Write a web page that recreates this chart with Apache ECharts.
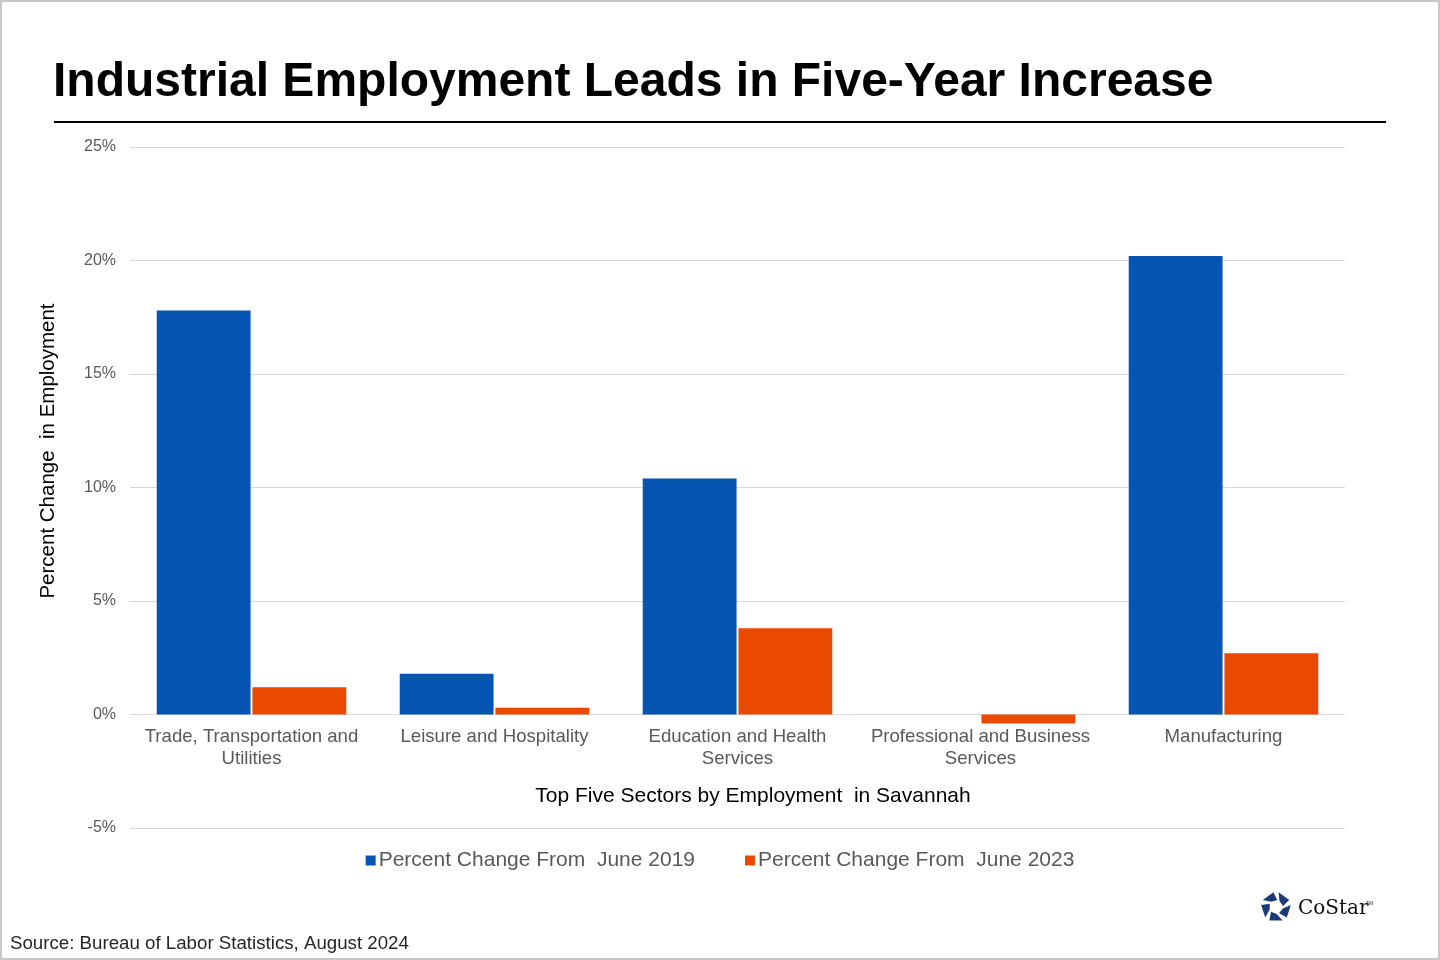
<!DOCTYPE html>
<html>
<head>
<meta charset="utf-8">
<title>Industrial Employment Leads in Five-Year Increase</title>
<script src="https://cdn.jsdelivr.net/npm/echarts@6/dist/echarts.min.js"></script>
<style>
  html, body { margin: 0; padding: 0; background: #fff; }
  #chart { width: 1440px; height: 960px; }
</style>
</head>
<body>
<div id="chart"></div>
<script>
// sectors on the x axis (line breaks as in the original labels)
var sectors = [
    'Trade, Transportation and\nUtilities',
    'Leisure and Hospitality',
    'Education and Health\nServices',
    'Professional and Business\nServices',
    'Manufacturing'
];
// percent change since June 2019
var change2019 = [17.8, 1.8, 10.4, 0.0, 20.2];
// percent change since June 2023
var change2023 = [1.2, 0.3, 3.8, -0.4, 2.7];
var seriesNames = ['Percent Change From  June 2019', 'Percent Change From  June 2023'];

var FONT = '"Liberation Sans", Arial, sans-serif';

// CoStar logo mark: five pieces around a ring
function logoPieces(cx, cy) {
    var out = [];
    var rO = 15, rI = 7;
    for (var i = 0; i < 5; i++) {
        var a0 = (-90 + 10 + i * 72) * Math.PI / 180;
        var a1 = (-90 + 62 + i * 72) * Math.PI / 180;
        out.push({
            type: 'polygon',
            shape: { points: [
                [cx + rO * Math.cos(a0), cy + rO * Math.sin(a0)],
                [cx + rO * Math.cos(a1), cy + rO * Math.sin(a1)],
                [cx + rI * Math.cos(a1 + 0.35), cy + rI * Math.sin(a1 + 0.35)],
                [cx + rI * Math.cos(a0 + 0.35), cy + rI * Math.sin(a0 + 0.35)]
            ] },
            style: { fill: '#1d3a78' }
        });
    }
    return out;
}

var chart = echarts.init(document.getElementById('chart'));
var option = {
    backgroundColor: '#fff',
    animation: false,
    textStyle: { fontFamily: FONT },
    title: {
        text: 'Industrial Employment Leads in Five-Year Increase',
        left: 48,
        top: 54,
        textStyle: { fontFamily: FONT, fontSize: 48, fontWeight: 'bold', color: '#000' }
    },
    legend: {
        data: seriesNames,
        bottom: 84,
        left: 'center',
        icon: 'rect',
        itemWidth: 10,
        itemHeight: 10,
        itemGap: 50,
        textStyle: { fontFamily: FONT, fontSize: 21, color: '#595959', padding: [0, 0, 0, -2] }
    },
    grid: { left: 130, right: 95, top: 147, bottom: 132, containLabel: false },
    xAxis: {
        type: 'category',
        data: sectors,
        // labels sit under the zero line, not under the -5% line
        offset: -114,
        axisLine: { show: false, onZero: false },
        axisTick: { show: false },
        axisLabel: {
            fontFamily: FONT, fontSize: 18.6, color: '#595959',
            lineHeight: 22, margin: 12, interval: 0
        }
    },
    yAxis: {
        type: 'value',
        min: -5,
        max: 25,
        interval: 5,
        axisLine: { show: false },
        axisTick: { show: false },
        splitLine: { lineStyle: { color: '#d9d9d9', width: 1 } },
        axisLabel: {
            formatter: '{value}%',
            fontFamily: FONT, fontSize: 16, color: '#595959', margin: 14
        }
    },
    series: [
        {
            name: seriesNames[0],
            type: 'bar',
            data: change2019,
            barGap: '2%',
            barCategoryGap: '22%',
            itemStyle: { color: '#0655b3' }
        },
        {
            name: seriesNames[1],
            type: 'bar',
            data: change2023,
            itemStyle: { color: '#ea4900' }
        }
    ],
    graphic: [
        {
            type: 'rect',
            shape: { x: 1, y: 1, width: 1438, height: 958 },
            style: { fill: 'none', stroke: '#c8c8c8', lineWidth: 2 },
            silent: true
        },
        {
            type: 'line',
            shape: { x1: 54, y1: 122, x2: 1386, y2: 122 },
            style: { stroke: '#000', lineWidth: 2 }
        },
        {
            type: 'text',
            x: 48,
            y: 451,
            rotation: Math.PI / 2,
            style: {
                text: 'Percent Change  in Employment',
                fontFamily: FONT, fontSize: 20.5, fill: '#000',
                textAlign: 'center', textVerticalAlign: 'middle'
            }
        },
        {
            type: 'text',
            x: 753,
            y: 796,
            style: {
                text: 'Top Five Sectors by Employment  in Savannah',
                fontFamily: FONT, fontSize: 21, fill: '#000',
                textAlign: 'center', textVerticalAlign: 'middle'
            }
        },
        {
            type: 'text',
            x: 10,
            y: 944,
            style: {
                text: 'Source: Bureau of Labor Statistics, August 2024',
                fontFamily: FONT, fontSize: 18.7, fill: '#262626',
                textVerticalAlign: 'middle'
            }
        },
        {
            type: 'group',
            children: logoPieces(1276, 907).concat([
                {
                    type: 'text',
                    x: 1298,
                    y: 909,
                    style: {
                        text: 'CoStar',
                        fontFamily: '"DejaVu Serif", "Liberation Serif", serif',
                        fontSize: 20, fill: '#111', textVerticalAlign: 'middle'
                    }
                },
                {
                    type: 'text',
                    x: 1366,
                    y: 904,
                    style: { text: 'TM', fontFamily: FONT, fontSize: 5, fill: '#333', textVerticalAlign: 'middle' }
                }
            ])
        }
    ]
};
chart.setOption(option);
window.onresize = function () {
    chart.resize();
};
</script>
</body>
</html>
